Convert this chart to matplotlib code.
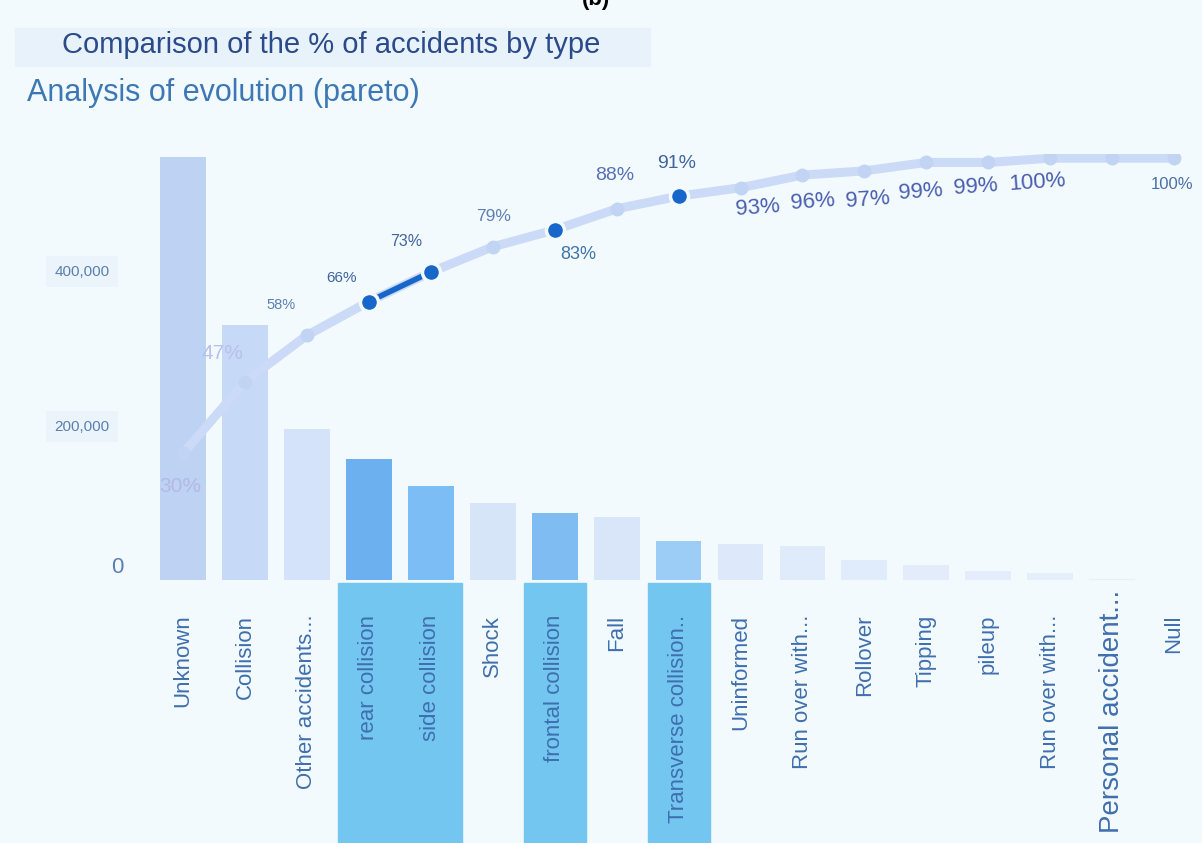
import matplotlib

matplotlib.use("Agg")
import matplotlib.pyplot as plt
import matplotlib.transforms as mtransforms
from matplotlib.patches import Rectangle

plt.rcParams["font.family"] = ["Liberation Sans", "DejaVu Sans"]

# data
categories = [
    "Unknown", "Collision", "Other accidents...", "rear collision",
    "side collision", "Shock", "frontal collision", "Fall",
    "Transverse collision..", "Uninformed", "Run over with...", "Rollover",
    "Tipping", "pileup", "Run over with...", "Personal accident...", "Null",
]
counts = [
    546000, 329000, 195000, 156000, 121000, 99000, 86000, 81000,
    50000, 46000, 44000, 26000, 19000, 12000, 9000, 1500, 500,
]
cum_pct = [30, 47, 58, 66, 73, 79, 83, 88, 91, 93, 96, 97, 99, 99, 100, 100, 100]
highlighted = [3, 4, 6, 8]
ytick_values = [0, 200000, 400000]
ytick_labels = ["0", "200,000", "400,000"]

# styling
BG = "#f3fafd"
LINE = "#cbdaf6"
LINE_PT = "#c2d4f3"
DOT = "#1766c9"
STRIP = "#72c6ef"
bar_colors = [
    "#bed2f4", "#c6d9f6", "#d4e3f9", "#6cb0f0", "#7bbdf4", "#d7e5f9",
    "#7fbcf2", "#d9e6fa", "#9bcdf7", "#dde9fb", "#dfeafb", "#e0ebfb",
    "#e2ecfb", "#e4edfb", "#e5eefb", "#e8f0fb", "#eaf1fb",
]
# (dx, dy in pixels, fontsize, color, rotation) per percent label
pct_style = [
    (-3, -33, 15, "#b3b9e6", 0),
    (-22, 28, 15, "#b9c1ea", 0),
    (-26, 30, 10.5, "#5b7fb5", 0),
    (-27, 24, 11, "#3f64a0", 0),
    (-25, 31, 11.5, "#3f64a0", 0),
    (1, 30, 12.5, "#5b7fb5", 0),
    (24, -25, 13, "#3f74a8", 0),
    (-2, 33, 14, "#5570b8", 0),
    (-2, 33, 14, "#3f64a0", 0),
    (17, -20, 16, "#4a5fb0", 4),
    (10, -27, 16, "#4a5fb0", 4),
    (3, -29, 16, "#4a5fb0", 4),
    (-6, -30, 16, "#4a5fb0", 4),
    (-13, -25, 16, "#4a5fb0", 4),
    (-13, -24, 16, "#4a5fb0", 4),
    None,
    (-2, -26, 12, "#4a6fa8", 0),
]

W, H = 1202, 843
fig = plt.figure(figsize=(W / 100, H / 100), dpi=100, facecolor=BG)
ax = fig.add_axes([140 / W, (H - 580) / H, (W - 140) / W, 426 / H])
ax.set_facecolor(BG)
for s in ax.spines.values():
    s.set_visible(False)

x = list(range(len(categories)))
ax.bar(x, counts, width=0.74, color=bar_colors, zorder=2)
ax.set_xlim(-0.694, 16.45)
ax.set_ylim(0, 550000)

# highlight strips under selected categories
trans = mtransforms.blended_transform_factory(ax.transData, fig.transFigure)
for i in highlighted:
    ax.add_patch(Rectangle((i - 0.5, 0), 1, (H - 583) / H, transform=trans,
                           color=STRIP, clip_on=False, zorder=0))

ax.set_xticks(x)
ax.set_xticklabels(categories, rotation=90, fontsize=16, color="#3f6fae",
                   va="top", ha="center")
ax.tick_params(axis="x", length=0, pad=25)
personal = ax.get_xticklabels()[15]
personal.set_fontsize(20)
personal.set_transform(personal.get_transform()
                       + mtransforms.ScaledTranslation(0, 0.25, fig.dpi_scale_trans))

ax.set_yticks(ytick_values)
ax.set_yticklabels(ytick_labels, fontsize=11, color="#5a7fb0")
ax.tick_params(axis="y", length=0, pad=22)
for lab in ax.get_yticklabels()[1:]:
    lab.set_bbox(dict(facecolor="#ebf4fa", edgecolor="none", pad=6))
zero = ax.get_yticklabels()[0]
zero.set_fontsize(16)
zero.set_transform(zero.get_transform()
                   + mtransforms.ScaledTranslation(0.14, 0.15, fig.dpi_scale_trans))

# cumulative pareto line
ax2 = ax.twinx()
ax2.set_ylim(0, 101)
ax2.axis("off")
ax2.plot(x, cum_pct, color=LINE, lw=6.5, solid_capstyle="round",
         marker="o", markersize=9, markerfacecolor=LINE_PT,
         markeredgecolor=LINE_PT, zorder=3)
ax2.plot(x[3:5], cum_pct[3:5], color=DOT, lw=4, zorder=4)
ax2.plot([x[i] for i in highlighted], [cum_pct[i] for i in highlighted],
         "o", color=DOT, markersize=13, markeredgecolor=BG,
         markeredgewidth=2.5, zorder=5)

for i, p in enumerate(cum_pct):
    st = pct_style[i]
    if st is None:
        continue
    dx, dy, fs, col, rot = st
    ax2.annotate(f"{p}%", (x[i], p), xytext=(dx, dy), textcoords="offset pixels",
                 ha="center", va="center", fontsize=fs, color=col,
                 rotation=rot, zorder=6)

# titles
fig.patches.append(Rectangle((15 / W, (H - 66) / H), 635 / W, 38 / H,
                             transform=fig.transFigure, color="#e8f2fa", zorder=0))
fig.text(62 / W, (H - 45) / H, "Comparison of the % of accidents by type",
         fontsize=21, color="#2a4a8a", va="center", ha="left")
fig.text(27 / W, (H - 93) / H, "Analysis of evolution (pareto)",
         fontsize=22, color="#3d78b5", va="center", ha="left")
fig.text(596 / W, 1.0, "(b)", fontsize=16, fontweight="bold", color="black",
         va="center", ha="center")

fig.savefig("out.png", dpi=100, facecolor=BG)
